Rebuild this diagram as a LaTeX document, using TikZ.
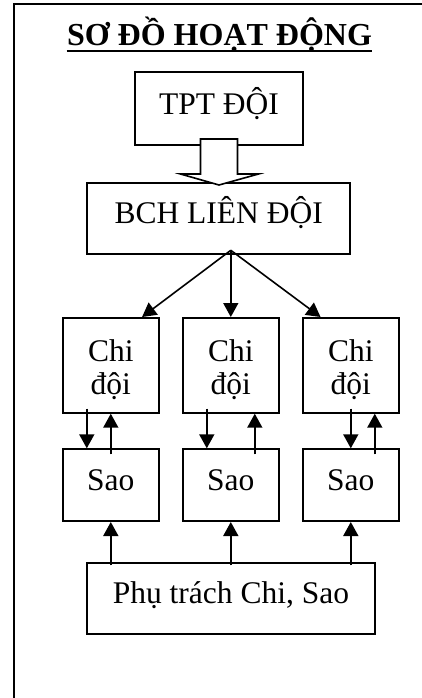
\documentclass[tikz,border=0pt]{standalone}
\usepackage{fontspec}
\setmainfont{Liberation Serif}
\usetikzlibrary{calc,arrows.meta}
\tikzset{
	box/.style={draw, line width=1pt, inner sep=0pt, font=\fontsize{15.75}{16.75}\selectfont},
	arr/.style={line width=0.8pt, -{Triangle[length=7pt,width=7.5pt]}},
	hollow/.style={line width=0.8pt, fill=white, line join=miter}
}

\begin{document}
\begin{tikzpicture}[x=0.5pt, y=-0.5pt]
		%%%%% START %%%%%
		\useasboundingbox (0,0) rectangle (422,698);
		
		\draw[line width=1pt] (422,4) -- (14,4) -- (14,698);
		
		\node[inner sep=0pt, anchor=base, font=\fontsize{16}{18}\selectfont\bfseries] (title) at (219.5,45) {SƠ ĐỒ HOẠT ĐỘNG};
		\draw[line width=1.25pt] ($(title.base west)+(0,6)$) -- ($(title.base east)+(0,6)$);
		
		\node[box, anchor=north, minimum width=84pt, text height=21pt, text depth=15.25pt] (tpt) at (219,71) {TPT ĐỘI};
		\node[box, anchor=north, minimum width=131.35pt, text height=20pt, text depth=15.65pt] (bch) at (218.7,182) {BCH LIÊN ĐỘI};
		
		\node[box, anchor=north, align=center, minimum width=48.25pt, text height=38.25pt, text depth=9.1pt] (chi1) at (110.8,317) {Chi\\đội};
		\node[box, anchor=north, align=center, minimum width=48.25pt, text height=38.25pt, text depth=9.1pt] (chi2) at (230.8,317) {Chi\\đội};
		\node[box, anchor=north, align=center, minimum width=48.25pt, text height=38.25pt, text depth=9.1pt] (chi3) at (350.8,317) {Chi\\đội};
		
		\node[box, anchor=north, minimum width=48.25pt, text height=20.5pt, text depth=15.35pt] (sao1) at (110.8,448.3) {Sao};
		\node[box, anchor=north, minimum width=48.25pt, text height=20.5pt, text depth=15.35pt] (sao2) at (230.8,448.3) {Sao};
		\node[box, anchor=north, minimum width=48.25pt, text height=20.5pt, text depth=15.35pt] (sao3) at (350.8,448.3) {Sao};
		
		\node[box, anchor=north, minimum width=144.15pt, text height=20pt, text depth=15.5pt] (pt) at (230.9,562.3) {Phụ trách Chi, Sao};
		
		\draw[hollow] ($(tpt.south)+(-18.5,-6.5)$) -- ($(tpt.south)+(18.5,-6.5)$) -- ($(tpt.south)+(18.5,28.5)$)
			-- ($(tpt.south)+(39.5,28.5)$) -- ($(tpt.south |- bch.north)+(0,3)$) -- ($(tpt.south)+(-38.5,28.5)$)
			-- ($(tpt.south)+(-18.5,28.5)$) -- cycle;
		
		\coordinate (hub) at ($(chi2.north |- bch.south)+(0,-5)$);
		\draw[arr] (hub) -- ($(chi1.north east)+(-18,0)$);
		\draw[arr] (hub) -- (chi2.north);
		\draw[arr] (hub) -- ($(chi3.north west)+(19,0)$);
		
		\draw[arr] ($(chi1.south)+(-24,-5)$) -- ($(sao1.north)+(-24,0)$);
		\draw[arr] ($(sao1.north)+(0,6)$) -- (chi1.south);
		\draw[arr] ($(chi2.south)+(-24,-5)$) -- ($(sao2.north)+(-24,0)$);
		\draw[arr] ($(sao2.north)+(24,6)$) -- ($(chi2.south)+(24,0)$);
		\draw[arr] ($(chi3.south)+(0,-5)$) -- (sao3.north);
		\draw[arr] ($(sao3.north)+(24,6)$) -- ($(chi3.south)+(24,0)$);
		
		\draw[arr] ($(sao1.south |- pt.north)+(0,3)$) -- (sao1.south);
		\draw[arr] ($(sao2.south |- pt.north)+(0,3)$) -- (sao2.south);
		\draw[arr] ($(sao3.south |- pt.north)+(0,3)$) -- (sao3.south);
		
		%%%%% END %%%%%
	\end{tikzpicture}
\end{document}
